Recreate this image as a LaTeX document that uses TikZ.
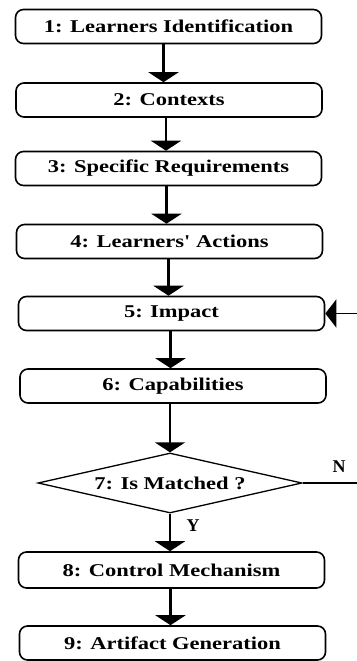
\documentclass[tikz,border=0pt]{standalone}
\usepackage{fontspec}
\usepackage{graphicx}
\setmainfont{Liberation Serif}
\usetikzlibrary{arrows.meta,shapes.geometric}

% widened bold serif label text
\newcommand\flowtext[1]{\scalebox{1.25}[1]{\bfseries #1}}

\tikzset{
  stepbox/.style={draw, line width=1.6pt, rounded corners=8pt,
    minimum width=306pt, minimum height=34pt, inner sep=0pt,
    font=\fontsize{18pt}{20pt}\selectfont},
  decision/.style={draw, diamond, line width=1.3pt, aspect=4.4,
    minimum width=264pt, minimum height=60pt, inner sep=0pt,
    font=\fontsize{18pt}{20pt}\selectfont},
  flowarrow/.style={line width=2.4pt, -{Triangle[width=30pt,length=10pt]}},
  tag/.style={font=\fontsize{18pt}{20pt}\selectfont\bfseries, inner sep=0pt}
}

\begin{document}
\begin{tikzpicture}[x=1pt,y=-1pt]
  \useasboundingbox (0,0) rectangle (356,661);

  \node[stepbox] (s1) at (168.5,26.5) {\flowtext{1: Learners Identification}};
  \node[stepbox] (s2) at (169,100)    {\flowtext{2: Contexts}};
  \node[stepbox] (s3) at (168.5,168.5){\flowtext{3: Specific Requirements}};
  \node[stepbox] (s4) at (169.5,241.5){\flowtext{4: Learners\textquotesingle{} Actions}};
  \node[stepbox] (s5) at (171.5,313.5){\flowtext{5: Impact}};
  \node[stepbox] (s6) at (173,386)    {\flowtext{6: Capabilities}};
  \node[decision] (d7) at (170,483)   {\flowtext{7: Is Matched ?}};
  \node[stepbox,minimum height=36pt] (s8) at (171.5,570) {\flowtext{8: Control Mechanism}};
  \node[stepbox] (s9) at (172.5,643)  {\flowtext{9: Artifact Generation}};

  \draw[flowarrow] ([xshift=-5pt]s1.south) -- ([xshift=-5pt]s1.south |- s2.north);
  \draw[flowarrow] ([xshift=-3pt]s2.south) -- ([xshift=-3pt]s2.south |- s3.north);
  \draw[flowarrow] ([xshift=-2pt]s3.south) -- ([xshift=-2pt]s3.south |- s4.north);
  \draw[flowarrow] ([xshift=-1pt]s4.south) -- ([xshift=-1pt]s4.south |- s5.north);
  \draw[flowarrow] ([xshift=-1pt]s5.south) -- ([xshift=-1pt]s5.south |- s6.north);
  \draw[flowarrow] ([xshift=-3pt]s6.south) -- ([xshift=-3pt]s6.south |- d7.north);
  \draw[flowarrow] (d7.south) -- (d7.south |- s8.north);
  \draw[flowarrow] ([xshift=-1pt]s8.south) -- ([xshift=-1pt]s8.south |- s9.north);

  % "no" branch loops back to the impact step
  \draw[line width=1.6pt, -{Triangle[width=28pt,length=11pt]}]
    (d7.east) -- ++(80,0) |- (s5.east);

  \node[tag] (n) at (339,467) {N};
  \node[tag] (y) at (193,526) {Y};
\end{tikzpicture}
\end{document}
